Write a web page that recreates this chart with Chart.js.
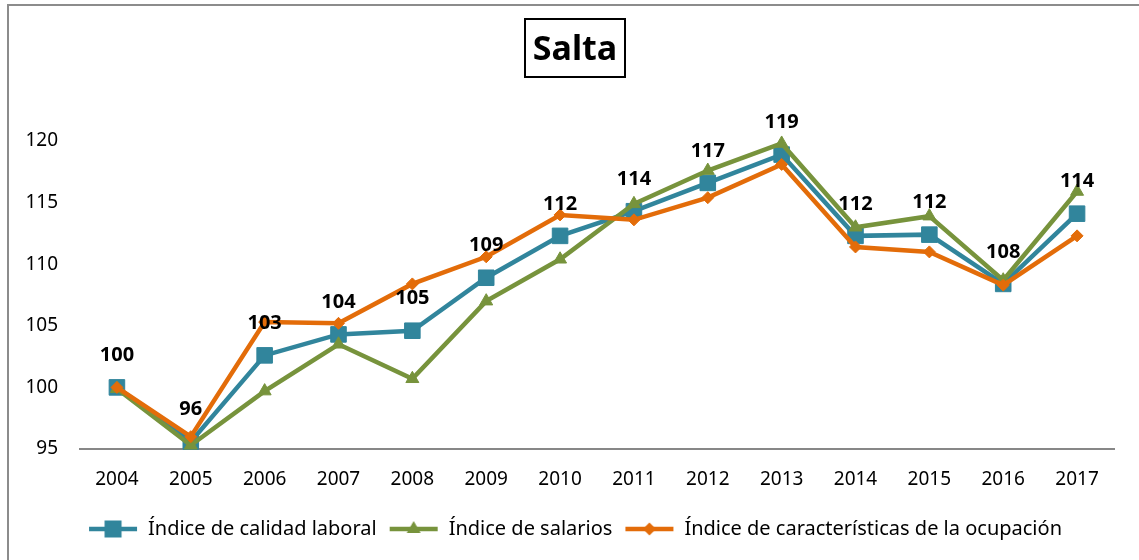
<!DOCTYPE html>
<html>
<head>
<meta charset="utf-8">
<script src="https://cdn.jsdelivr.net/npm/chart.js@4/dist/chart.umd.min.js"></script>
<style>
  html, body { margin: 0; padding: 0; background: #fff; }
  .wrap { position: relative; width: 1139px; height: 560px; overflow: hidden; }
  .frame { position: absolute; left: 7px; top: 4px; width: 1200px; height: 600px;
           border-left: 2px solid #8c8c8c; border-top: 2px solid #8c8c8c; }
  .title { position: absolute; left: 524px; top: 18px; width: 98px; height: 56px;
           border: 2px solid #000; font: bold 34px "Noto Sans", sans-serif;
           line-height: 54px; text-align: center; color: #000; }
  canvas { position: absolute; left: 0; top: 0; }
</style>
</head>
<body>
<div class="wrap">
  <div class="frame"></div>
  <canvas id="chart" width="1139" height="560"></canvas>
  <div class="title">Salta</div>
</div>
<script>
const years = ["2004", "2005", "2006", "2007", "2008", "2009", "2010",
               "2011", "2012", "2013", "2014", "2015", "2016", "2017"];
const calidadLaboral = [100.0, 95.6, 102.6, 104.3, 104.6, 108.9, 112.3,
                        114.3, 116.6, 118.9, 112.3, 112.4, 108.4, 114.1];
const salarios = [99.9, 95.3, 99.7, 103.5, 100.7, 107.0, 110.4,
                  114.9, 117.6, 119.8, 113.0, 113.9, 108.7, 115.9];
const caracteristicas = [100.0, 96.0, 105.3, 105.2, 108.4, 110.6, 114.0,
                         113.6, 115.4, 118.1, 111.4, 111.0, 108.3, 112.3];
const seriesNames = ["Índice de calidad laboral", "Índice de salarios",
                     "Índice de características de la ocupación"];

const blue = "#31859c", green = "#77933c", orange = "#e36c09";
const font = "'Noto Sans', sans-serif";

// legend sample: short line with the marker in the middle
function legendIcon(color, style, r) {
  const c = document.createElement("canvas");
  c.width = 50; c.height = 20;
  const g = c.getContext("2d");
  g.strokeStyle = color; g.fillStyle = color; g.lineWidth = 4.5;
  g.beginPath(); g.moveTo(1, 10); g.lineTo(49, 10); g.stroke();
  g.beginPath();
  if (style === "rect") {
    g.rect(25 - 8.5, 10 - 8.5, 17, 17);
  } else if (style === "triangle") {
    g.moveTo(25, 10 - r); g.lineTo(25 + r * 0.87, 10 + r * 0.5); g.lineTo(25 - r * 0.87, 10 + r * 0.5);
    g.closePath();
  } else {
    g.moveTo(25, 10 - r); g.lineTo(25 + r, 10); g.lineTo(25, 10 + r); g.lineTo(25 - r, 10);
    g.closePath();
  }
  g.fill();
  return c;
}
const icons = [legendIcon(blue, "rect"), legendIcon(green, "triangle", 8), legendIcon(orange, "diamond", 6.5)];

const valueLabels = {
  id: "valueLabels",
  afterDatasetsDraw(chart) {
    const ctx = chart.ctx;
    const meta = chart.getDatasetMeta(0);
    ctx.save();
    ctx.font = "bold 20px " + font;
    ctx.fillStyle = "#000";
    ctx.textAlign = "center";
    ctx.textBaseline = "middle";
    meta.data.forEach((pt, i) => {
      ctx.fillText(String(Math.round(calidadLaboral[i])), pt.x, pt.y - 32);
    });
    ctx.restore();
  }
};

// the legend in the picture sits centred on the whole frame, not on the plot
const legendShift = {
  id: "legendShift",
  afterLayout(chart) {
    chart.legend.left += 18;
    chart.legend.right += 18;
  }
};

new Chart(document.getElementById("chart"), {
  type: "line",
  data: {
    labels: years,
    datasets: [
      { label: seriesNames[0], data: calidadLaboral, borderColor: blue, backgroundColor: blue,
        borderWidth: 4.5, pointStyle: "rect", pointRadius: 11, pointBorderWidth: 1,
        pointBackgroundColor: blue, pointBorderColor: blue, order: 3, clip: false },
      { label: seriesNames[1], data: salarios, borderColor: green, backgroundColor: green,
        borderWidth: 4.5, pointStyle: "triangle", pointRadius: 7.5, pointBorderWidth: 1,
        pointBackgroundColor: green, pointBorderColor: green, order: 2, clip: false },
      { label: seriesNames[2], data: caracteristicas, borderColor: orange, backgroundColor: orange,
        borderWidth: 4.5, pointStyle: "rectRot", pointRadius: 6, pointBorderWidth: 1,
        pointBackgroundColor: orange, pointBorderColor: orange, order: 1, clip: false }
    ]
  },
  options: {
    responsive: false,
    animation: false,
    layout: { padding: { top: 141, right: 25, bottom: 11, left: 0 } },
    scales: {
      x: {
        offset: true,
        grid: { display: false, drawTicks: false, offset: true },
        border: { display: true, color: "#878787", width: 2 },
        ticks: { color: "#000", font: { family: font, size: 19 }, padding: 19, maxRotation: 0 },
        afterFit: s => { s.height = 58; }
      },
      y: {
        min: 95, max: 120,
        grid: { display: false, drawTicks: false },
        border: { display: false },
        ticks: { stepSize: 5, color: "#000", font: { family: font, size: 19 }, padding: 22 },
        afterFit: s => { s.width = 80; }
      }
    },
    plugins: {
      legend: {
        position: "bottom",
        labels: {
          usePointStyle: true,
          pointStyleWidth: 50,
          padding: 12,
          color: "#000",
          font: { family: font, size: 20 },
          sort: (a, b) => a.datasetIndex - b.datasetIndex,
          generateLabels: chart => chart.data.datasets.map((ds, i) => ({
            text: ds.label, pointStyle: icons[i], fillStyle: ds.borderColor,
            strokeStyle: ds.borderColor, lineWidth: 0, hidden: false, datasetIndex: i
          }))
        }
      },
      tooltip: { enabled: false }
    }
  },
  plugins: [valueLabels, legendShift]
});
</script>
</body>
</html>
